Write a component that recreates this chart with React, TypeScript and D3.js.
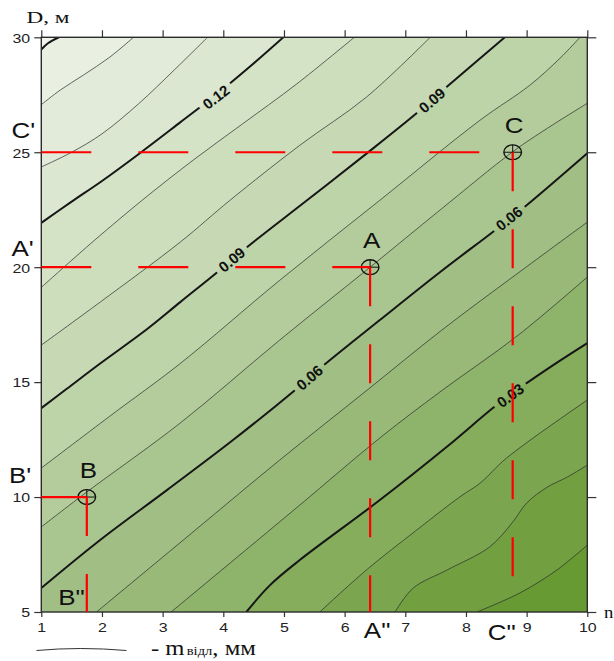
import { useEffect, useRef } from 'react';
import * as d3 from 'd3';

// axes
const nTicks = [1, 2, 3, 4, 5, 6, 7, 8, 9, 10];
const dTicks = [5, 10, 15, 20, 25, 30];

// isolines of m відл, mm (thick every 0.03)
const contourLevels = [0.0, 0.01, 0.02, 0.03, 0.04, 0.05, 0.06, 0.07, 0.08, 0.09, 0.1, 0.11, 0.12, 0.13, 0.14, 0.15];
const majorLevels = [0.03, 0.06, 0.09, 0.12, 0.15];

// each isoline as [n, D], lower-left end first
const iso000 = [[8.18, 5], [8.89, 5.83], [9.5, 6.83], [10, 7.91]];
const iso001 = [[6.83, 5], [7.13, 6.04], [7.69, 6.83], [8.39, 7.83], [8.77, 8.91], [9.0, 9.74], [9.34, 10.43], [9.67, 10.87], [10, 11.39]];
const iso002 = [[5.59, 5], [6.36, 6.83], [7.19, 8.57], [7.9, 10.01], [8.23, 10.6], [8.67, 11.7], [10, 14.22]];
const iso003 = [[4.38, 5], [4.77, 6.17], [5.26, 7.26], [6.58, 9.87], [7.69, 12.2], [8.48, 13.95], [8.97, 14.9], [9.5, 15.85], [10, 16.7]];
const iso004 = [[3.14, 5], [4.19, 7.3], [5.26, 9.65], [6.58, 12.57], [7.57, 14.57], [8.86, 17.04], [10, 19.57]];
const iso005 = [[1.91, 5], [3.45, 8.37], [4.93, 11.61], [6.37, 14.65], [7.6, 17.26], [8.81, 19.65], [10, 21.96]];
const iso006 = [[1, 6.04], [1.97, 8.13], [3.07, 10.3], [4.16, 12.48], [5.18, 14.65], [5.64, 15.7], [6.58, 17.7], [7.57, 19.78], [8.48, 21.61], [8.96, 22.61], [10, 24.96]];
const iso007 = [[1, 8.7], [1.75, 10.22], [3.29, 13.22], [4.93, 16.83], [6.42, 20.0], [7.57, 22.48], [8.78, 25.04], [9.34, 26.04], [10, 27.13]];
const iso008 = [[1, 11.26], [2.13, 13.52], [3.29, 15.81], [4.93, 19.43], [6.58, 22.91], [8.23, 26.39], [9.05, 27.91], [9.55, 29.09], [9.88, 30]];
const iso009 = [[1, 13.87], [1.42, 14.71], [1.97, 15.81], [2.74, 17.3], [3.29, 18.48], [3.9, 19.78], [4.39, 20.87], [5.38, 22.91], [6.36, 24.94], [7.21, 26.75], [7.68, 27.84], [8.64, 30]];
const iso010 = [[1, 16.61], [1.97, 18.48], [3.29, 21.09], [4.11, 22.91], [5.26, 25.3], [6.36, 27.4], [7.41, 30]];
const iso011 = [[1, 19.12], [1.5, 20.3], [2, 21.45], [2.75, 23.1], [3.5, 24.65], [4.3, 26.2], [5.2, 27.95], [6.16, 30]];
const iso012 = [[1, 21.93], [1.5, 22.85], [2, 23.75], [2.63, 24.97], [3.29, 26.3], [3.88, 27.5], [4.45, 28.75], [4.99, 30]];
const iso013 = [[1, 24.36], [1.5, 25.0], [2, 25.8], [2.6, 27.1], [3.2, 28.6], [3.74, 30]];
const iso014 = [[1, 27.07], [1.31, 27.7], [1.69, 28.35], [2.13, 29.14], [2.52, 30]];
const iso015 = [[1, 29.47], [1.11, 29.74], [1.29, 30]];

const isolines = [iso000, iso001, iso002, iso003, iso004, iso005, iso006, iso007, iso008, iso009, iso010, iso011, iso012, iso013, iso014, iso015];

// inline labels on the thick isolines
const labelValues = [0.12, 0.09, 0.09, 0.06, 0.06, 0.03];
const labelN = [3.88, 7.44, 4.14, 5.42, 8.71, 8.73];
const labelD = [27.4, 27.26, 20.33, 15.2, 22.12, 14.42];

// marked points and their projections
const pointNames = ['A', 'B', 'C'];
const pointN = [6.42, 1.75, 8.77];
const pointD = [20, 10, 25];

const W = 614;
const H = 661;
const STRETCH = 1.18;

const App = () => {
  const ref = useRef<SVGSVGElement>(null);

  useEffect(() => {
    const x = d3.scaleLinear().domain([1, 10]).range([41.3, 587.3]);
    const y = d3.scaleLinear().domain([5, 30]).range([612, 37.3]);

    const svg = d3.select(ref.current);
    svg.selectAll('*').remove();

    const defs = svg.append('defs');
    defs
      .append('clipPath')
      .attr('id', 'plot-clip')
      .append('rect')
      .attr('x', x(1))
      .attr('y', y(30))
      .attr('width', x(10) - x(1))
      .attr('height', y(5) - y(30));

    const color = d3
      .scaleLinear<string>()
      .domain([-0.005, 0.045, 0.095, 0.155])
      .range(['#689a33', '#98b978', '#c6d9b4', '#f0f4eb']);

    const line = d3
      .line<number[]>()
      .x((p) => x(p[0]))
      .y((p) => y(p[1]))
      .curve(d3.curveCatmullRom.alpha(0.5));

    const plot = svg.append('g').attr('clip-path', 'url(#plot-clip)');

    // filled bands: paint the region above each level, lowest first
    plot
      .append('rect')
      .attr('x', x(1))
      .attr('y', y(30))
      .attr('width', x(10) - x(1))
      .attr('height', y(5) - y(30))
      .attr('fill', color(-0.005));

    isolines.forEach((pts, i) => {
      const first = pts[0];
      const last = pts[pts.length - 1];
      const corners: number[][] = [];
      if (last[0] >= 10) corners.push([10, 30]);
      corners.push([1, 30]);
      if (first[1] <= 5) corners.push([1, 5]);
      const d = line(pts) + corners.map((c) => `L${x(c[0])},${y(c[1])}`).join('') + 'Z';
      plot.append('path').attr('d', d).attr('fill', color(contourLevels[i] + 0.005));
    });

    // label placement + gaps cut in the lines
    const labels = labelValues.map((v, i) => {
      const pts = isolines[contourLevels.findIndex((l) => Math.abs(l - v) < 1e-6)];
      const px = x(labelN[i]);
      const py = y(labelD[i]);
      let best = Infinity;
      let angle = 0;
      for (let k = 0; k < pts.length - 1; k++) {
        const ax = x(pts[k][0]);
        const ay = y(pts[k][1]);
        const bx = x(pts[k + 1][0]);
        const by = y(pts[k + 1][1]);
        const dist = Math.hypot((ax + bx) / 2 - px, (ay + by) / 2 - py);
        if (dist < best) {
          best = dist;
          angle = (Math.atan2(by - ay, bx - ax) * 180) / Math.PI;
        }
      }
      return { v, px, py, angle };
    });

    const mask = defs.append('mask').attr('id', 'label-gaps').attr('maskUnits', 'userSpaceOnUse');
    mask.append('rect').attr('x', 0).attr('y', 0).attr('width', W).attr('height', H).attr('fill', '#fff');
    labels.forEach((l) => {
      mask
        .append('rect')
        .attr('x', -19.5)
        .attr('y', -8)
        .attr('width', 39)
        .attr('height', 16)
        .attr('fill', '#000')
        .attr('transform', `translate(${l.px},${l.py}) rotate(${l.angle})`);
    });

    const lines = plot.append('g').attr('mask', 'url(#label-gaps)').attr('fill', 'none');
    isolines.forEach((pts, i) => {
      const major = majorLevels.some((m) => Math.abs(m - contourLevels[i]) < 1e-6);
      lines
        .append('path')
        .attr('d', line(pts))
        .attr('stroke', major ? '#161616' : '#2a2a2a')
        .attr('stroke-width', major ? 2 : 0.7);
    });

    plot
      .selectAll('text.iso-label')
      .data(labels)
      .enter()
      .append('text')
      .attr('class', 'iso-label')
      .attr('transform', (d) => `translate(${d.px},${d.py}) rotate(${d.angle})`)
      .attr('text-anchor', 'middle')
      .attr('dy', '0.36em')
      .attr('font-family', 'Arial, "Liberation Sans", sans-serif')
      .attr('font-size', '15px')
      .attr('font-weight', 'bold')
      .attr('fill', '#111')
      .text((d) => d.v.toFixed(2));

    // axes: labelled left/bottom, bare ticks top/right
    const styleAxis = (g: d3.Selection<SVGGElement, unknown, null, undefined>) => {
      g.select('.domain').remove();
      g.selectAll('line').attr('stroke', '#333').attr('stroke-width', 1.2);
      g.selectAll('text')
        .attr('font-family', 'Arial, "Liberation Sans", sans-serif')
        .attr('font-size', '13.5px')
        .attr('fill', '#222');
    };

    const left = svg
      .append('g')
      .attr('transform', `translate(${x(1)},0)`)
      .call(d3.axisLeft(y).tickValues(dTicks).tickSize(7).tickSizeOuter(0));
    styleAxis(left);
    left.selectAll('text').attr('x', -9.5).attr('dy', '0.36em').attr('transform', `scale(${STRETCH},1)`);

    const bottom = svg
      .append('g')
      .attr('transform', `translate(0,${y(5)})`)
      .call(d3.axisBottom(x).tickValues(nTicks).tickSize(5).tickSizeOuter(0));
    styleAxis(bottom);
    bottom.selectAll('text').attr('y', 20).attr('dy', 0).attr('transform', `scale(${STRETCH},1)`);

    const top = svg
      .append('g')
      .attr('transform', `translate(0,${y(30)})`)
      .call(d3.axisTop(x).tickValues(nTicks).tickSize(7).tickSizeOuter(0).tickFormat(() => ''));
    styleAxis(top);

    const right = svg
      .append('g')
      .attr('transform', `translate(${x(10)},0)`)
      .call(d3.axisRight(y).tickValues(dTicks).tickSize(9).tickSizeOuter(0).tickFormat(() => ''));
    styleAxis(right);

    svg
      .append('rect')
      .attr('x', x(1))
      .attr('y', y(30))
      .attr('width', x(10) - x(1))
      .attr('height', y(5) - y(30))
      .attr('fill', 'none')
      .attr('stroke', '#2b2b2b')
      .attr('stroke-width', 1.4);

    const serif = '"Times New Roman", "Liberation Serif", serif';
    const sans = 'Arial, "Liberation Sans", sans-serif';

    const stretchedText = (tx: number, ty: number, str: string, size: number, family: string, anchor: string, sx = STRETCH) =>
      svg
        .append('text')
        .attr('transform', `translate(${tx},${ty}) scale(${sx},1)`)
        .attr('text-anchor', anchor)
        .attr('font-family', family)
        .attr('font-size', `${size}px`)
        .attr('fill', '#111')
        .text(str);

    stretchedText(26.5, 22.5, 'D, м', 16, serif, 'start', 1.45);
    stretchedText(604, 617.5, 'n', 17, serif, 'start', 1.1);

    // projection guides
    const guides = svg.append('g').attr('fill', 'none').attr('stroke', '#ff0000').attr('stroke-width', 2.2);

    // markers
    pointNames.forEach((name, i) => {
      const cx = x(pointN[i]);
      const cy = y(pointD[i]);
      const m = svg.append('g').attr('transform', `translate(${cx},${cy})`);
      m.append('ellipse').attr('rx', 8.8).attr('ry', 7.4).attr('fill', 'none').attr('stroke', '#111').attr('stroke-width', 1.4);
      m.append('line').attr('x1', -8.8).attr('x2', 8.8).attr('stroke', '#111').attr('stroke-width', 1);
      m.append('line').attr('y1', -7.4).attr('y2', 7.4).attr('stroke', '#111').attr('stroke-width', 1);

      guides
        .append('path')
        .attr('d', `M${x(1)},${cy}H${cx}`)
        .attr('stroke-dasharray', '50 47');
      guides
        .append('path')
        .attr('d', `M${cx},${cy}V${y(5)}`)
        .attr('stroke-dasharray', '39 38');

      stretchedText(cx + 1.5, cy - 19, name, 22, sans, 'middle');
    });
    guides.raise();

    // projection letters on the axes
    stretchedText(11.5, y(pointD[2]) - 14, "C'", 22, sans, 'start');
    stretchedText(11.5, y(pointD[0]) - 11, "A'", 22, sans, 'start');
    stretchedText(9, y(pointD[1]) - 14, "B'", 22, sans, 'start');
    stretchedText(x(pointN[1]) - 2, 605, 'B"', 22, sans, 'end');
    stretchedText(x(pointN[0]) + 7, 638, 'A"', 22, sans, 'middle');
    stretchedText(x(pointN[2]) + 3, 640, 'C"', 22, sans, 'end');

    // legend
    svg
      .append('path')
      .attr('d', 'M36.5,650.5Q80,646.5 126.5,650.5')
      .attr('fill', 'none')
      .attr('stroke', '#333')
      .attr('stroke-width', 1);
    const legend = svg
      .append('text')
      .attr('transform', `translate(151,655) scale(1.12,1)`)
      .attr('font-family', serif)
      .attr('font-size', '22px')
      .attr('fill', '#111');
    legend.append('tspan').text('- m');
    legend.append('tspan').attr('dx', 2).attr('font-size', '13px').text('відл');
    legend.append('tspan').text(', мм');
  }, []);

  return (
    <svg
      ref={ref}
      width={W}
      height={H}
      style={{ position: 'absolute', left: 0, top: 0, background: '#fff' }}
    />
  );
};

export default App;
